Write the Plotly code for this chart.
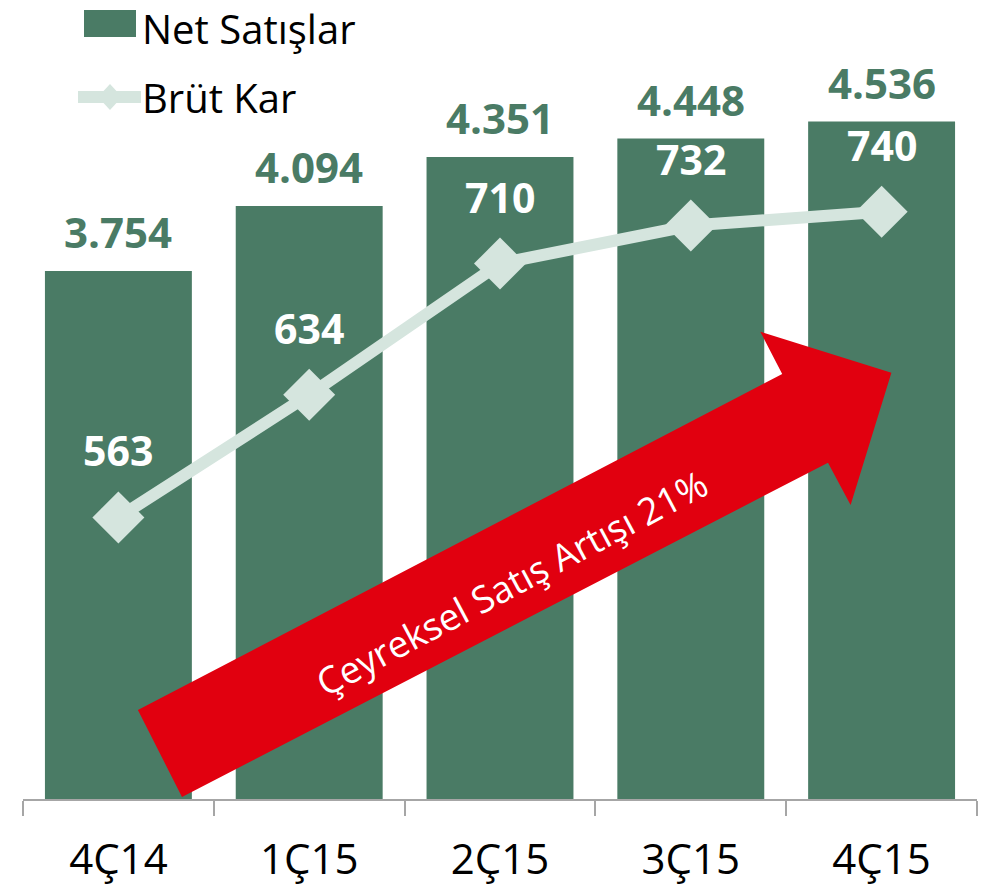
import plotly.graph_objects as go

# ---- data ----
categories = ["4Ç14", "1Ç15", "2Ç15", "3Ç15", "4Ç15"]
net_satislar = [3754, 4094, 4351, 4448, 4536]
brut_kar = [563, 634, 710, 732, 740]
series_names = ["Net Satışlar", "Brüt Kar"]
arrow_text = "Çeyreksel Satış Artışı 21%"

# ---- style ----
GREEN = "#4A7B65"
LIGHT = "#D5E5DE"
RED = "#E1000F"
AXIS = "#A6A6A6"
FONT = "Open Sans"

W, H = 988, 888
ML, MR, MT, MB = 23, 11, 20, 89
PW = W - ML - MR
PH = H - MT - MB


def to_paper(x, y):
    return (x - ML) / PW, (H - MB - y) / PH


def fmt(v):
    return f"{v:,}".replace(",", ".")


fig = go.Figure()
fig.add_trace(go.Bar(
    x=categories, y=net_satislar, name=series_names[0],
    marker=dict(color=GREEN, line=dict(width=0)), showlegend=False,
))
fig.add_trace(go.Scatter(
    x=categories, y=brut_kar, name=series_names[1], yaxis="y2",
    mode="lines+markers",
    line=dict(color=LIGHT, width=12),
    marker=dict(symbol="diamond", size=40, color=LIGHT, line=dict(width=0)),
    showlegend=False,
))

annotations = []
for c, v in zip(categories, net_satislar):
    annotations.append(dict(
        x=c, y=v, xref="x", yref="y", text=fmt(v), showarrow=False,
        yanchor="middle", yshift=39,
        font=dict(family=FONT, size=42, color=GREEN, weight="bold"),
    ))
for c, v in zip(categories, brut_kar):
    annotations.append(dict(
        x=c, y=v, xref="x", yref="y2", text=fmt(v), showarrow=False,
        yanchor="middle", yshift=67,
        font=dict(family=FONT, size=41, color="white", weight="bold"),
    ))

# arrow text
tx, ty = to_paper(511, 582)
annotations.append(dict(
    x=tx, y=ty, xref="paper", yref="paper", text=arrow_text, showarrow=False,
    textangle=-28, xanchor="center", yanchor="middle",
    font=dict(family=FONT, size=37, color="white"),
))

# custom legend
lx, ly = to_paper(141, 0)
annotations.append(dict(
    x=lx, y=ly, xref="paper", yref="paper", text=series_names[0], showarrow=False,
    xanchor="left", yanchor="top", borderpad=0,
    font=dict(family=FONT, size=40, color="black"),
))
lx, ly = to_paper(141, 97)
annotations.append(dict(
    x=lx, y=ly, xref="paper", yref="paper", text=series_names[1], showarrow=False,
    xanchor="left", yanchor="middle", borderpad=0,
    font=dict(family=FONT, size=40, color="black"),
))

shapes = []
# arrow polygon
arrow_pts = [(137.9, 710), (782.2, 374), (760.3, 331.7), (891.4, 372.7),
             (850.6, 505), (828, 462.7), (182, 797)]
pp = [to_paper(x, y) for x, y in arrow_pts]
path = "M " + " L ".join(f"{x:.5f},{y:.5f}" for x, y in pp) + " Z"
shapes.append(dict(type="path", path=path, xref="paper", yref="paper",
                   fillcolor=RED, line=dict(width=0), layer="above"))

# legend symbols
x0, y0 = to_paper(84, 10)
x1, y1 = to_paper(136, 37)
shapes.append(dict(type="rect", x0=x0, y0=y0, x1=x1, y1=y1, xref="paper", yref="paper",
                   fillcolor=GREEN, line=dict(width=0)))
x0, y0 = to_paper(78, 91)
x1, y1 = to_paper(141, 103)
shapes.append(dict(type="rect", x0=x0, y0=y0, x1=x1, y1=y1, xref="paper", yref="paper",
                   fillcolor=LIGHT, line=dict(width=0)))
dpts = [to_paper(110, 84), to_paper(122, 97), to_paper(110, 110), to_paper(98, 97)]
dpath = "M " + " L ".join(f"{x:.5f},{y:.5f}" for x, y in dpts) + " Z"
shapes.append(dict(type="path", path=dpath, xref="paper", yref="paper",
                   fillcolor=LIGHT, line=dict(width=0)))

fig.update_layout(
    width=W, height=H,
    margin=dict(l=ML, r=MR, t=MT, b=MB, pad=0, autoexpand=False),
    paper_bgcolor="white", plot_bgcolor="white",
    bargap=0.23,
    showlegend=False,
    font=dict(family=FONT),
    xaxis=dict(
        type="category", range=[-0.5, 4.5], tickson="boundaries",
        ticks="outside", ticklen=15, tickwidth=1.5, tickcolor=AXIS,
        showline=True, linecolor=AXIS, linewidth=1.5,
        showgrid=False, zeroline=False, automargin=False,
        tickfont=dict(family=FONT, size=42, color="black"),
        ticklabelstandoff=23,
    ),
    yaxis=dict(range=[988, 5068], visible=False, showgrid=False, zeroline=False,
               automargin=False),
    yaxis2=dict(range=[400, 851], overlaying="y", visible=False,
                showgrid=False, zeroline=False, automargin=False),
    annotations=annotations,
    shapes=shapes,
)

fig.write_html(
    "out.html",
    config={"displayModeBar": False},
    post_script="document.body.style.margin='0px';document.body.style.padding='0px';",
)
